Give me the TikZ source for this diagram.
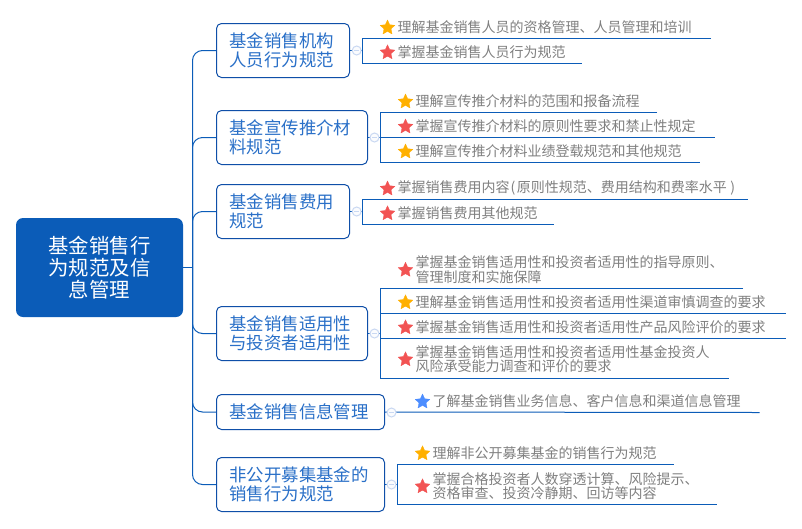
\documentclass[tikz,border=0pt]{standalone}
\usepackage{fontspec}
\newfontfamily\cjk{Noto Sans CJK SC}
\usetikzlibrary{shapes.geometric}
\definecolor{mainblue}{HTML}{0B5CB8}
\definecolor{boxblue}{HTML}{0F4FA8}
\definecolor{btext}{HTML}{2A70C8}
\definecolor{ltext}{HTML}{808080}
\definecolor{sgold}{HTML}{FFB000}
\definecolor{sred}{HTML}{F25353}
\definecolor{sblue}{HTML}{4C8DFF}
\definecolor{ctl}{HTML}{C9D8F2}
\tikzset{
  rootbox/.style={fill=mainblue,rounded corners=7pt,inner sep=0,minimum width=167pt,minimum height=99pt,align=center,text=white,font=\cjk\fontsize{20.4}{22}\selectfont},
  brbox/.style={draw=boxblue,line width=1pt,fill=white,rounded corners=5pt,inner xsep=13pt,inner ysep=0,align=left,text=btext,font=\cjk\fontsize{17.4}{18.8}\selectfont},
  wire/.style={draw=mainblue,line width=1pt},
  lftext/.style={anchor=west,inner sep=0,align=left,text=ltext,font=\cjk\fontsize{14}{14.6}\selectfont},
  stardot/.style={star,star points=5,star point ratio=2.1,minimum size=15.5pt,inner sep=0,fill=#1,draw=#1,line width=.3pt,line join=round},
  ctlbox/.style={circle,draw=ctl,line width=1pt,fill=white!92!ctl,minimum size=9pt,inner sep=0},
}
% name, left, top, right, bottom, text
\newcommand{\brnode}[6]{\node[brbox,text width=\dimexpr #4pt-#2pt-26pt\relax,minimum height=\dimexpr #5pt-#3pt\relax] (#1) at ({(#2+#4)/2},{(#3+#5)/2}) {#6};}
% name, text x, y centre, colour, text
\newcommand{\lfnode}[5]{\node[stardot=#4] (#1s) at (#2-10,#3) {}; \node[lftext] (#1) at (#2,#3-.3) {#5};}
\newcommand{\ctlnode}[4]{\node[ctlbox] (#1) at (#2,#3) {}; \draw[draw=ctl,line width=.8pt] (#2-2.5,#3) -- (#2+2.5,#3);}
\begin{document}
\begin{tikzpicture}[x=1pt,y=-1pt]
\useasboundingbox (0,0) rectangle (802,528);
\fill[white] (0,0) rectangle (802,528);
\node[rootbox] (root) at (99.5,267.5) {基金销售行\\为规范及信\\息管理};
\brnode{b1}{216.5}{23.5}{349.5}{77.5}{基金销售机构\\人员行为规范}
\brnode{b2}{216.5}{110.5}{367.5}{164.5}{基金宣传推介材\\料规范}
\brnode{b3}{216.5}{184.5}{349.5}{238.5}{基金销售费用\\规范}
\brnode{b4}{216.5}{306.5}{367.5}{360.5}{基金销售适用性\\与投资者适用性}
\brnode{b5}{216.5}{394.5}{384.5}{429.5}{基金销售信息管理}
\brnode{b6}{216.5}{457.5}{384.5}{511.5}{非公开募集基金的\\销售行为规范}
% trunk
\coordinate (tr) at (192.5,267.5);
\draw[wire] (root.east) -- (tr);
\foreach \b in {b1,b2,b3,b4,b5,b6}{\draw[wire,rounded corners=10pt] (\b.west) -| (tr);}
% leaf rule ends: start and end of each underline
\coordinate (a1s) at (362.5,38.5); \coordinate (a1e) at (711,38.5);
\coordinate (a2s) at (362.5,63.5); \coordinate (a2e) at (581.5,63.5);
\coordinate (c1s) at (380.5,112.5); \coordinate (c1e) at (657,112.5);
\coordinate (c2s) at (380.5,137.5); \coordinate (c2e) at (715,137.5);
\coordinate (c3s) at (380.5,162.5); \coordinate (c3e) at (700,162.5);
\coordinate (d1s) at (362.5,199.5); \coordinate (d1e) at (748,199.5);
\coordinate (d2s) at (362.5,224.5); \coordinate (d2e) at (553.5,224.5);
\coordinate (e1s) at (380.5,288.5); \coordinate (e1e) at (743,288.5);
\coordinate (e2s) at (380.5,313.5); \coordinate (e2e) at (786,313.5);
\coordinate (e3s) at (380.5,338.5); \coordinate (e3e) at (786,338.5);
\coordinate (e4s) at (380.5,378.5); \coordinate (e4e) at (729,378.5);
\coordinate (f1e) at (759.5,412.5);
\coordinate (g1s) at (397.5,464.5); \coordinate (g1e) at (673.5,464.5);
\coordinate (g2s) at (397.5,504.5); \coordinate (g2e) at (717,504.5);
% wires
\draw[wire] (b1.east) -- (b1.east -| a1s);
\draw[wire] (b2.east) -- (c2s);
\draw[wire] (b3.east) -- (b3.east -| d1s);
\draw[wire] (b4.east) -- (b4.east -| e1s);
\draw[wire] (b5.east) -- (f1e);
\draw[wire] (b6.east) -- (b6.east -| g1s);
\draw[wire] (a1e) -- (a1s) -- (a2s) -- (a2e);
\draw[wire] (c1e) -- (c1s) -- (c3s) -- (c3e);
\draw[wire] (c2s) -- (c2e);
\draw[wire] (d1e) -- (d1s) -- (d2s) -- (d2e);
\draw[wire] (e1e) -- (e1s) -- (e4s) -- (e4e);
\draw[wire] (e2s) -- (e2e);
\draw[wire] (e3s) -- (e3e);
\draw[wire] (g1e) -- (g1s) -- (g2s) -- (g2e);
% collapse controls
\ctlnode{k1}{356.7}{50.5}{}
\ctlnode{k2}{374.5}{137.5}{}
\ctlnode{k3}{356.7}{211.5}{}
\ctlnode{k4}{374.5}{333.5}{}
\ctlnode{k5}{391.5}{412.5}{}
\ctlnode{k6}{391.5}{484.5}{}
% leaves
\lfnode{l1}{397.5}{27.7}{sgold}{理解基金销售人员的资格管理、人员管理和培训}
\lfnode{l2}{397.5}{52.5}{sred}{掌握基金销售人员行为规范}
\lfnode{l3}{415.5}{101.7}{sgold}{理解宣传推介材料的范围和报备流程}
\lfnode{l4}{415.5}{126.7}{sred}{掌握宣传推介材料的原则性要求和禁止性规定}
\lfnode{l5}{415.5}{151.7}{sgold}{理解宣传推介材料业绩登载规范和其他规范}
\lfnode{l6}{397.5}{188.7}{sred}{掌握销售费用内容\kern.8pt(\kern1.6pt原则性规范、费用结构和费率水平\kern3.5pt)}
\lfnode{l7}{397.5}{213.5}{sred}{掌握销售费用其他规范}
\lfnode{l8}{415.5}{270}{sred}{掌握基金销售适用性和投资者适用性的指导原则、\\管理制度和实施保障}
\lfnode{l9}{415.5}{302.5}{sgold}{理解基金销售适用性和投资者适用性渠道审慎调查的要求}
\lfnode{l10}{415.5}{327.5}{sred}{掌握基金销售适用性和投资者适用性产品风险评价的要求}
\lfnode{l11}{415.5}{359.5}{sred}{掌握基金销售适用性和投资者适用性基金投资人\\风险承受能力调查和评价的要求}
\lfnode{l12}{432.5}{401.7}{sblue}{了解基金销售业务信息、客户信息和渠道信息管理}
\lfnode{l13}{432.5}{453.5}{sgold}{理解非公开募集基金的销售行为规范}
\lfnode{l14}{432.5}{486.5}{sred}{掌握合格投资者人数穿透计算、风险提示、\\资格审查、投资冷静期、回访等内容}
\end{tikzpicture}
\end{document}
